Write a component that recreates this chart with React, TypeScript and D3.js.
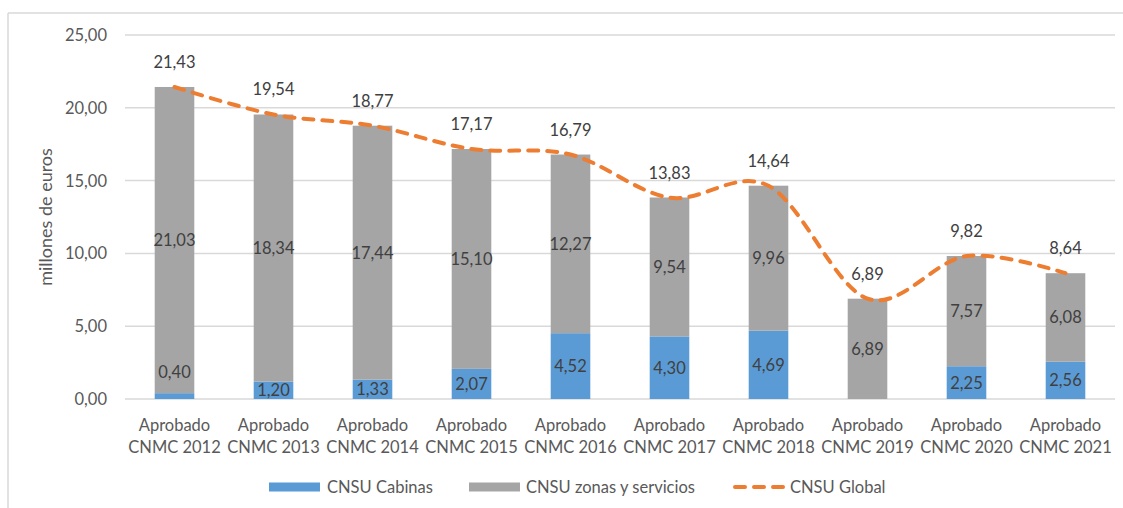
import React from 'react';
import * as d3 from 'd3';

const categories = [
  'Aprobado\nCNMC 2012', 'Aprobado\nCNMC 2013', 'Aprobado\nCNMC 2014', 'Aprobado\nCNMC 2015',
  'Aprobado\nCNMC 2016', 'Aprobado\nCNMC 2017', 'Aprobado\nCNMC 2018', 'Aprobado\nCNMC 2019',
  'Aprobado\nCNMC 2020', 'Aprobado\nCNMC 2021',
];
const cabinas = [0.40, 1.20, 1.33, 2.07, 4.52, 4.30, 4.69, 0, 2.25, 2.56];
const zonas = [21.03, 18.34, 17.44, 15.10, 12.27, 9.54, 9.96, 6.89, 7.57, 6.08];
const globalVals = [21.43, 19.54, 18.77, 17.17, 16.79, 13.83, 14.64, 6.89, 9.82, 8.64];
const yTicks = [0, 5, 10, 15, 20, 25];
const seriesNames = ['CNSU Cabinas', 'CNSU zonas y servicios', 'CNSU Global'];

const W = 1123;
const H = 508;
const BLUE = '#5B9BD5';
const GRAY = '#A5A5A5';
const ORANGE = '#ED7D31';
const FONT = 'Lato, "Open Sans", sans-serif';
const fmt = (v: number) => v.toFixed(2).replace('.', ',');

export default function App() {
  const x = d3.scaleBand<string>().domain(categories).range([125, 1115]).paddingInner(0.6).paddingOuter(0.3);
  const y = d3.scaleLinear().domain([0, 25]).range([399, 35]);
  const bw = x.bandwidth();
  const cx = (c: string) => (x(c) as number) + bw / 2;

  const line = d3.line<number>()
    .x((_, i) => cx(categories[i]))
    .y((d) => y(d))
    .curve(d3.curveCatmullRom.alpha(0));

  return (
    <svg width={W} height={H} style={{ position: 'absolute', left: 0, top: 0, background: '#fff' }} fontFamily={FONT}>
      <rect x={0} y={0} width={W} height={H} fill="#fff" />
      {/* frame */}
      <line x1={8} y1={13} x2={W} y2={13} stroke="#D9D9D9" strokeWidth={1.5} />
      <line x1={8} y1={13} x2={8} y2={H} stroke="#D9D9D9" strokeWidth={1.5} />
      {/* grid */}
      {yTicks.map((t) => (
        <g key={t}>
          <line x1={125} x2={1115} y1={y(t)} y2={y(t)} stroke="#D9D9D9" strokeWidth={1.5} />
          <text x={107} y={y(t) + 6} textAnchor="end" fontSize={16.5} fill="#595959">{fmt(t)}</text>
        </g>
      ))}
      <text transform={`translate(52,${(y(0) + y(25)) / 2}) rotate(-90)`} textAnchor="middle" fontSize={18} fill="#595959">millones de euros</text>
      {/* bars */}
      {categories.map((c, i) => {
        const x0 = x(c) as number;
        const yc = y(cabinas[i]);
        const yz = y(cabinas[i] + zonas[i]);
        return (
          <g key={c}>
            {cabinas[i] > 0 && <rect x={x0} y={yc} width={bw} height={y(0) - yc} fill={BLUE} />}
            <rect x={x0} y={yz} width={bw} height={yc - yz} fill={GRAY} />
          </g>
        );
      })}
      {/* segment labels */}
      {categories.map((c, i) => {
        const yc = y(cabinas[i]);
        const yz = y(cabinas[i] + zonas[i]);
        const hC = y(0) - yc;
        const cabY = hC < 12 ? yc - 21 : (y(0) + yc) / 2;
        return (
          <g key={c + 'l'} fontSize={16.5} fill="#404040" textAnchor="middle">
            {cabinas[i] > 0 && <text x={cx(c)} y={cabY + 6}>{fmt(cabinas[i])}</text>}
            <text x={cx(c)} y={(yc + yz) / 2 + 6}>{fmt(zonas[i])}</text>
          </g>
        );
      })}
      {/* global line */}
      <path d={line(globalVals) || ''} fill="none" stroke={ORANGE} strokeWidth={4} strokeDasharray="10 9" strokeLinecap="round" />
      {globalVals.map((v, i) => (
        <text key={'g' + i} x={cx(categories[i])} y={y(v) - 25 + 6} textAnchor="middle" fontSize={16.5} fill="#404040">{fmt(v)}</text>
      ))}
      {/* x labels */}
      {categories.map((c) => {
        const parts = c.split('\n');
        return (
          <text key={c + 'x'} x={cx(c)} textAnchor="middle" fontSize={16.5} fill="#595959">
            <tspan x={cx(c)} y={431}>{parts[0]}</tspan>
            <tspan x={cx(c)} y={453}>{parts[1]}</tspan>
          </text>
        );
      })}
      {/* legend */}
      <rect x={269} y={482.5} width={51} height={9} fill={BLUE} />
      <text x={327} y={493} fontSize={16.5} fill="#595959">{seriesNames[0]}</text>
      <rect x={469} y={482.5} width={51} height={9} fill={GRAY} />
      <text x={526} y={493} fontSize={16.5} fill="#595959">{seriesNames[1]}</text>
      <line x1={735} x2={783} y1={487} y2={487} stroke={ORANGE} strokeWidth={4} strokeDasharray="10 9" strokeLinecap="round" />
      <text x={790} y={493} fontSize={16.5} fill="#595959">{seriesNames[2]}</text>
    </svg>
  );
}
